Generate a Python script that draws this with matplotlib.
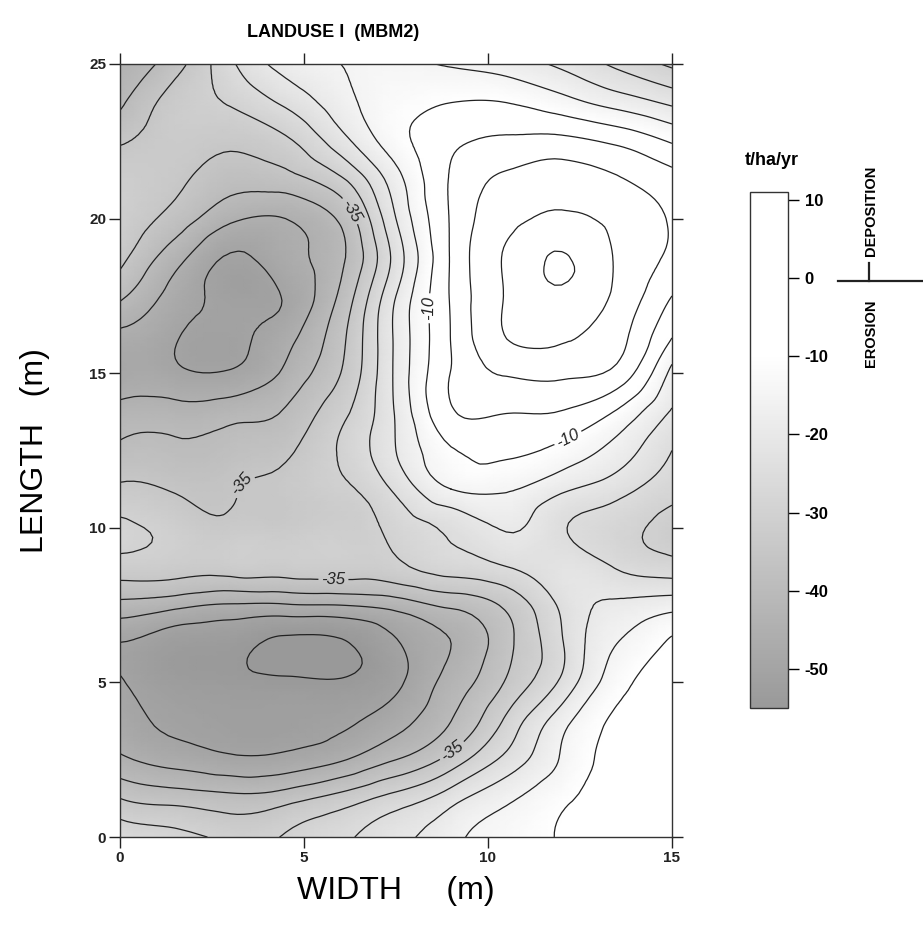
import numpy as np
import matplotlib
matplotlib.use('Agg')
import matplotlib.pyplot as plt
import matplotlib.tri as mtri
from matplotlib.colors import LinearSegmentedColormap, Normalize
from matplotlib.cm import ScalarMappable

plt.rcParams['font.family'] = ['Liberation Sans', 'DejaVu Sans']
plt.rcParams['contour.negative_linestyle'] = 'solid'

# grid nodes of the plot (m)
width_m = [0, 1.5, 3, 4.5, 6, 7.5, 9, 10.5, 12, 13.5, 15]
length_m = [0, 1.25, 2.5, 3.75, 5, 6.25, 7.5, 8.75, 10, 11.25, 12.5,
            13.75, 15, 16.25, 17.5, 18.75, 20, 21.25, 22.5, 23.75, 25]

# soil redistribution rate (t/ha/yr), one row per length value (bottom -> top)
rate_rows = [
    [-26, -28.5, -31, -29.5, -26, -21.5, -16.5, -12.5, -9.5, -7, -6],
    [-35, -37, -38.5, -37, -33, -28, -22, -16, -11, -8, -7],
    [-44, -47, -49, -48.5, -45.5, -40, -33, -23.5, -14.5, -8, -6.5],
    [-48, -51, -52, -52, -51, -47, -40, -29, -17, -9, -7],
    [-49.5, -53, -53.8, -54.3, -54.5, -51, -43, -34.5, -24, -12, -8],
    [-50.2, -53, -53.8, -56, -55.6, -50.5, -45, -36.5, -25.5, -15, -9],
    [-41.5, -43.5, -45.5, -45.5, -45, -43, -39, -34, -24, -19, -17],
    [-32, -32.5, -32.5, -32.5, -32, -31, -27.5, -25, -22.5, -25.5, -28],
    [-29, -31.5, -33.5, -33.5, -32, -28.5, -24, -19.5, -24.5, -28, -32],
    [-34, -35.5, -35.5, -34, -31, -24, -15, -14.5, -19, -23, -28],
    [-39, -39, -38, -36, -29.5, -20, -10.5, -9, -11.5, -17, -25],
    [-43, -43, -42, -39.5, -31.5, -19.5, -5.5, -4.8, -5.2, -10.5, -20.5],
    [-48.5, -49, -49.5, -44, -35, -19, -4.8, 0.5, 1, -1.5, -16.5],
    [-46, -49.5, -51, -47, -36.5, -19, -4.8, 5.2, 6, 2, -9.5],
    [-39, -47, -51.5, -49.5, -39, -20, -4.5, 5.3, 9, 4, -5],
    [-33.5, -43, -50.5, -47, -41, -23, -4.5, 5.5, 10.4, 4.5, -1],
    [-31.5, -37, -44, -45, -39, -20, -4.5, 3.5, 6, 3.5, -0.5],
    [-32, -34, -38, -37, -31, -17, -4.5, 1, 2.5, 0.5, -3],
    [-35.5, -33, -34, -31, -22, -12, -6, -4, -3.5, -6, -10.5],
    [-41, -33, -29.5, -24, -17, -12, -10, -10, -13, -17, -21],
    [-44, -37, -26, -18, -15, -14, -15.5, -17.5, -21, -26, -31],
]

levels = np.arange(-55, 11, 5)
labelled = [-35, -10]
cbar_ticks = [10, 0, -10, -20, -30, -40, -50]
label_spots = [(6.5, 20.4), (8.4, 17.1), (3.0, 11.7), (5.8, 8.4), (9.05, 2.75), (12.3, 12.6)]

X, Y = np.meshgrid(width_m, length_m)
Z = np.array(rate_rows)

# smooth surface through the grid nodes (like a gridding package would draw it)
tri = mtri.Triangulation(X.ravel(), Y.ravel())
interp = mtri.CubicTriInterpolator(tri, Z.ravel(), kind='min_E')
tri_f, z_f = mtri.UniformTriRefiner(tri).refine_field(Z.ravel(), triinterpolator=interp, subdiv=3)

cmap = LinearSegmentedColormap.from_list(
    'erosion', [(0.0, '#999999'), (45 / 66, '#ffffff'), (1.0, '#ffffff')])
norm = Normalize(vmin=-55, vmax=11)

fig = plt.figure(figsize=(9.23, 9.27), dpi=100)
ax = fig.add_axes([0.130, 0.097, 0.598, 0.834])

ax.tripcolor(tri_f, z_f, shading='gouraud', cmap=cmap, norm=norm)
ax.tricontour(tri_f, z_f, levels=[l for l in levels if l not in labelled],
              colors='#222222', linewidths=0.9)
cs = ax.tricontour(tri_f, z_f, levels=labelled, colors='#222222', linewidths=0.9)
lbls = ax.clabel(cs, manual=label_spots, fmt=lambda v: f'{v:.0f}', fontsize=12,
                 inline=True, inline_spacing=3)
for t in lbls:
    t.set_fontstyle('italic')
    t.set_color('#222222')

ax.set_xlim(0, 15)
ax.set_ylim(0, 25)
ax.set_xticks([0, 5, 10, 15])
ax.set_yticks([0, 5, 10, 15, 20, 25])
ax.tick_params(direction='out', length=8, width=1, top=True, right=True,
               labelsize=11, colors='#222222', pad=2)
for lab in ax.get_xticklabels() + ax.get_yticklabels():
    lab.set_fontweight('bold')
for sp in ax.spines.values():
    sp.set_color('#333333')
    sp.set_linewidth(1.0)

ax.set_xlabel('WIDTH     (m)', fontsize=23, labelpad=8)
ax.set_ylabel('LENGTH   (m)', fontsize=23, labelpad=28)
fig.text(0.361, 0.965, 'LANDUSE I  (MBM2)', fontsize=13, fontweight='bold',
         ha='center', va='center')

# colour scale
cax = fig.add_axes([0.8126, 0.2362, 0.0412, 0.5566])
cb = fig.colorbar(ScalarMappable(norm=norm, cmap=cmap), cax=cax, ticks=cbar_ticks)
cb.outline.set_edgecolor('#333333')
cb.outline.set_linewidth(1.0)
cax.tick_params(direction='out', length=8, width=1, labelsize=12, pad=4)
cax.set_yticklabels([f'{v}' for v in cbar_ticks])
for lab in cax.get_yticklabels():
    lab.set_fontweight('bold')

fig.text(0.836, 0.827, 't/ha/yr', fontsize=13, fontweight='bold', ha='center', va='center')
fig.text(0.944, 0.773, 'DEPOSITION', fontsize=10.5, fontweight='bold', rotation=90,
         ha='center', va='center')
fig.text(0.944, 0.640, 'EROSION', fontsize=10.5, fontweight='bold', rotation=90,
         ha='center', va='center')
fig.add_artist(plt.Line2D([0.908, 1.0], [0.697, 0.697], color='#222222', lw=1.6))
fig.add_artist(plt.Line2D([0.941, 0.941], [0.697, 0.716], color='#222222', lw=1.6))

fig.savefig('out.png', dpi=100)
